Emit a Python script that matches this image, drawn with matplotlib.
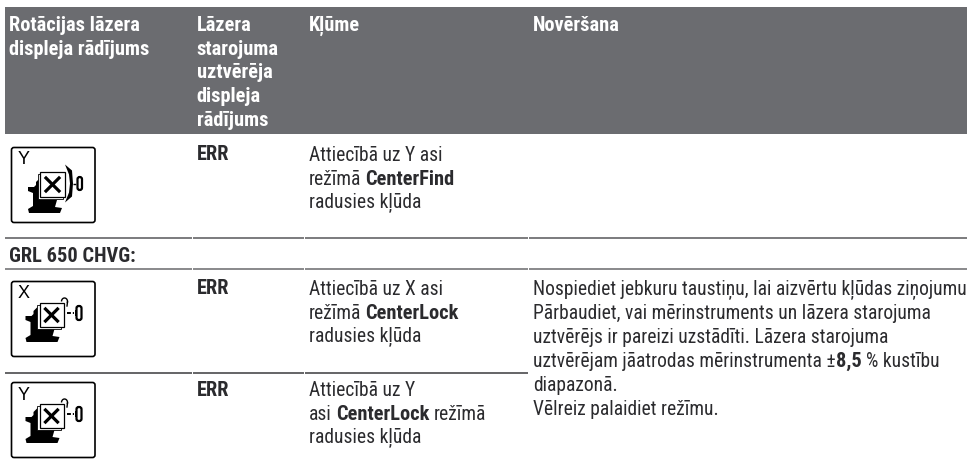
import logging
import matplotlib
matplotlib.use("Agg")
import matplotlib.pyplot as plt
from matplotlib.patches import Rectangle, FancyBboxPatch, Polygon, Arc

logging.getLogger("matplotlib.font_manager").setLevel(logging.ERROR)
FONT = ["Roboto Condensed", "Roboto"]
W, H = 967, 466
HEAD_BG = "#6b6c70"
INK = "#2b2b2e"

header_cols = [
    ["Rotācijas lāzera", "displeja rādījums"],
    ["Lāzera", "starojuma", "uztvērēja", "displeja", "rādījums"],
    ["Kļūme"],
    ["Novēršana"],
]
header_x = [9, 196.5, 309, 533]
section_label = "GRL 650 CHVG:"
err_label = "ERR"
rows_text = [
    [[("Attiecībā uz Y asi", 0)], [("režīmā ", 0), ("CenterFind", 1)], [("radusies kļūda", 0)]],
    [[("Attiecībā uz X asi", 0)], [("režīmā ", 0), ("CenterLock", 1)], [("radusies kļūda", 0)]],
    [[("Attiecībā uz Y", 0)], [("asi ", 0), ("CenterLock", 1), (" režīmā", 0)], [("radusies kļūda", 0)]],
]
row_base = [161, 295, 396]
fix_text = [
    [("Nospiediet jebkuru taustiņu, lai aizvērtu kļūdas ziņojumu", 0)],
    [("Pārbaudiet, vai mērinstruments un lāzera starojuma", 0)],
    [("uztvērējs ir pareizi uzstādīti. Lāzera starojuma", 0)],
    [("uztvērējam jāatrodas mērinstrumenta ±", 0), ("8,5", 1), (" % kustību", 0)],
    [("diapazonā.", 0)],
    [("Vēlreiz palaidiet režīmu.", 0)],
]
icons = [("Y", 147, "find"), ("X", 281, "lock"), ("Y", 382, "lock")]
col_edges = [5, 103, 192.5, 304.5, 528.5]

fig = plt.figure(figsize=(W / 100, H / 100), dpi=100)
ax = fig.add_axes([0, 0, 1, 1])
ax.set_xlim(0, W)
ax.set_ylim(H, 0)
ax.axis("off")
rend = fig.canvas.get_renderer()


def fit(s, weight, target):
    t = ax.text(0, 0, s, fontsize=10, family=FONT, weight=weight)
    w = t.get_window_extent(rend).width
    t.remove()
    return 10 * target / w


FS = fit(fix_text[0][0][0], "normal", 432)
FSB = fit("displeja rādījums", "bold", 140)
SP = FS * 0.30


def runs(x, y, parts):
    for s, bold in parts:
        lead = len(s) - len(s.lstrip(" "))
        trail = len(s) - len(s.rstrip(" "))
        t = ax.text(x + lead * SP, y, s.strip(" "), fontsize=FSB if bold else FS, family=FONT,
                    weight="bold" if bold else "normal", color=INK, va="baseline", ha="left")
        x += t.get_window_extent(rend).width + (lead + trail) * SP


ax.add_patch(Rectangle((5, 7), W - 5, 127, fc=HEAD_BG, ec="none"))
for col, x in zip(header_cols, header_x):
    for i, line in enumerate(col):
        ax.text(x, 31 + i * 23.75, line, fontsize=FSB, family=FONT, weight="bold",
                color="white", va="baseline", ha="left")


def rule(y, x_end, c):
    edges = [e for e in col_edges if e < x_end] + [x_end]
    for a, b in zip(edges[:-1], edges[1:]):
        ax.plot([a, b - 0.4], [y, y], color=c, lw=1.1, solid_capstyle="butt")


rule(237.5, W, "#57575a")
rule(268.5, W, "#69696c")
rule(372.5, 529, "#3a3a3d")
ax.text(9, 262, section_label, fontsize=FSB, family=FONT, weight="bold", color=INK, va="baseline")

for base, lines in zip(row_base, rows_text):
    ax.text(196.5, base - 0.5, err_label, fontsize=FSB, family=FONT, weight="bold", color=INK, va="baseline")
    for i, parts in enumerate(lines):
        runs(309, base + i * 23.6, parts)

for i, parts in enumerate(fix_text):
    runs(533, 295 + i * 24, parts)


def icon(letter, top, kind):
    k = "black"
    ax.add_patch(FancyBboxPatch((11.5, top + 0.5), 83.5, 75, boxstyle="round,pad=0,rounding_size=2.5",
                                fc="white", ec=k, lw=1.2))
    ax.text(18, top + 17.5, letter, fontsize=13, family="Liberation Sans", color=k, va="baseline")
    dx, dy = (0, 0) if kind == "find" else (-2.5, -5)
    base = [(36, 35), (40, 31), (40, 53), (57, 53), (55, 60), (62, 61), (60, 66), (29, 66), (28, 62),
            (33, 59), (33, 46), (28, 44), (28, 40), (34, 40), (36, 38)]
    ax.add_patch(Polygon([(x + dx, y + top + dy) for x, y in base], fc=k, ec="none"))
    sx, sy, s = (40, top + 25, 25) if kind == "find" else (39.5, top + 22, 24)
    ax.add_patch(Rectangle((sx - 2.2, sy + 2.2), s, s, fc="white", ec=k, lw=0.6))
    ax.add_patch(Rectangle((sx, sy), s, s, fc="white", ec=k, lw=0.9))
    m = 6
    ax.plot([sx + m, sx + s - m], [sy + m, sy + s - m], color=k, lw=2.3)
    ax.plot([sx + m, sx + s - m], [sy + s - m, sy + m], color=k, lw=2.3)
    if kind == "find":
        cy = top + 36.5
        ax.add_patch(Polygon([(65, cy - 19), (72, cy - 13), (73, cy), (72, cy + 13), (65, cy + 19),
                              (69, cy + 9), (70, cy), (69, cy - 9)], fc=k, ec="none"))
        ax.plot([73, 77], [cy, cy], color=k, lw=1, ls=(0, (2, 1)))
        ax.add_patch(FancyBboxPatch((77.5, cy - 6.5), 4.5, 13, boxstyle="round,pad=0,rounding_size=2.2",
                                    fc="white", ec=k, lw=1.6))
    else:
        cy = sy + 10
        ax.plot([sx + s + 3, sx + s + 10], [cy, cy], color=k, lw=1.4, ls=(0, (2, 1)))
        ax.add_patch(Rectangle((sx + s + 11, cy - 3), 3, 6, fc=k, ec="none"))
        ax.add_patch(FancyBboxPatch((sx + s + 13, cy - 7), 5, 14, boxstyle="round,pad=0,rounding_size=2.2",
                                    fc="white", ec=k, lw=1.6))
        ax.add_patch(Arc((sx + s + 1, sy - 1.5), 6, 7, theta1=180, theta2=30, color=k, lw=1))
        ax.plot([sx + s + 4, sx + s + 3.5], [sy - 1, sy + 3], color=k, lw=1)


for letter, top, kind in icons:
    icon(letter, top, kind)

fig.savefig("out.png", dpi=100)
